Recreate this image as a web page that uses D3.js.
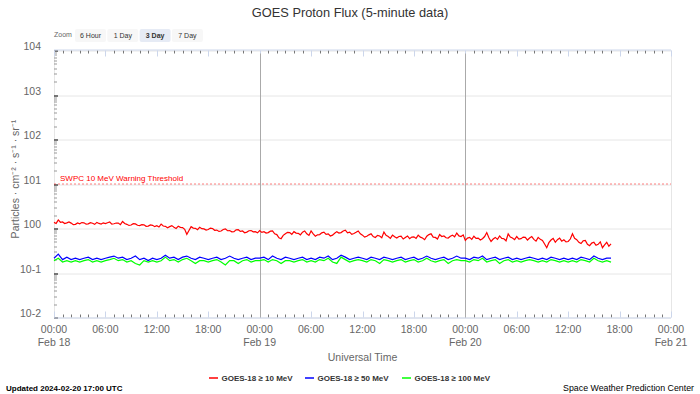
<!DOCTYPE html>
<html>
<head>
<meta charset="utf-8">
<script src="https://cdn.jsdelivr.net/npm/d3@7"></script>
<style>
  body { margin: 0; background: #fff; }
  svg { display: block; font-family: "Liberation Sans", Arial, sans-serif; }
</style>
</head>
<body>
<svg id="chart" width="700" height="394"></svg>
<script>
// readings start 2024-02-18 00:00 UTC
const startTime = Date.UTC(2024, 1, 18, 0, 0);

// >=10 MeV, read every 15 minutes
const flux10 = [
  1.37, 1.30, 1.56, 1.38, 1.40, 1.29, 1.34, 1.40, 1.32, 1.22, 1.24, 1.33, 1.28, 1.36, 1.34, 1.25, 1.27, 1.35, 1.31, 1.24, 1.37, 1.30, 1.26, 1.34,
  1.29, 1.35, 1.40, 1.25, 1.28, 1.33, 1.32, 1.22, 1.44, 1.30, 1.24, 1.17, 1.20, 1.28, 1.27, 1.18, 1.16, 1.22, 1.21, 1.12, 1.13, 1.20, 1.18, 1.10,
  1.16, 1.08, 1.26, 1.14, 1.12, 1.04, 1.10, 1.16, 1.07, 1.00, 1.13, 1.06, 1.05, 0.96, 0.74, 0.90, 1.10, 1.02, 1.01, 0.94, 1.07, 0.99, 0.98, 0.92,
  0.95, 1.02, 1.00, 0.91, 0.92, 0.86, 0.88, 0.95, 0.98, 0.89, 0.90, 0.84, 0.85, 0.93, 0.94, 0.86, 0.88, 0.80, 0.83, 0.89, 0.90, 0.84, 0.85, 0.80,
  0.90, 0.82, 0.85, 0.79, 0.81, 0.87, 0.88, 0.76, 0.73, 0.62, 0.59, 0.70, 0.76, 0.82, 0.81, 0.74, 0.85, 0.79, 0.78, 0.72, 0.83, 0.88, 0.76, 0.70,
  0.88, 0.76, 0.67, 0.72, 0.73, 0.80, 0.83, 0.74, 0.76, 0.68, 0.71, 0.78, 0.85, 0.79, 0.81, 0.88, 0.92, 0.80, 0.83, 0.74, 0.77, 0.82, 0.88, 0.76,
  0.71, 0.64, 0.67, 0.72, 0.76, 0.66, 0.63, 0.70, 0.68, 0.62, 0.83, 0.70, 0.66, 0.60, 0.71, 0.65, 0.61, 0.66, 0.67, 0.58, 0.63, 0.68, 0.59, 0.64,
  0.65, 0.60, 0.71, 0.64, 0.61, 0.56, 0.67, 0.73, 0.76, 0.64, 0.63, 0.58, 0.73, 0.66, 0.68, 0.62, 0.61, 0.67, 0.71, 0.65, 0.79, 0.68, 0.66, 0.72,
  0.54, 0.61, 0.63, 0.57, 0.67, 0.60, 0.61, 0.55, 0.59, 0.66, 0.81, 0.62, 0.51, 0.58, 0.63, 0.57, 0.68, 0.60, 0.59, 0.53, 0.76, 0.64, 0.61, 0.56,
  0.66, 0.58, 0.59, 0.64, 0.63, 0.55, 0.61, 0.66, 0.57, 0.52, 0.63, 0.57, 0.54, 0.45, 0.37, 0.48, 0.55, 0.60, 0.49, 0.56, 0.61, 0.52, 0.56, 0.50,
  0.51, 0.58, 0.76, 0.60, 0.56, 0.49, 0.46, 0.53, 0.54, 0.44, 0.41, 0.47, 0.49, 0.42, 0.44, 0.50, 0.37, 0.43, 0.49, 0.40, 0.45
];

// >=50 MeV, read every 30 minutes
const flux50 = [
  0.215, 0.265, 0.20, 0.227, 0.20, 0.215, 0.20, 0.215, 0.227, 0.20, 0.215, 0.20,
  0.215, 0.227, 0.24, 0.215, 0.227, 0.20, 0.215, 0.24, 0.20, 0.215, 0.19, 0.215,
  0.20, 0.215, 0.252, 0.215, 0.227, 0.20, 0.227, 0.24, 0.215, 0.20, 0.227, 0.215,
  0.20, 0.215, 0.227, 0.20, 0.215, 0.24, 0.215, 0.20, 0.215, 0.227, 0.20, 0.215,
  0.215, 0.227, 0.20, 0.24, 0.215, 0.20, 0.227, 0.215, 0.20, 0.215, 0.227, 0.20,
  0.215, 0.20, 0.227, 0.215, 0.24, 0.20, 0.215, 0.252, 0.227, 0.20, 0.215, 0.227,
  0.215, 0.20, 0.227, 0.215, 0.20, 0.227, 0.215, 0.20, 0.215, 0.227, 0.20, 0.215,
  0.227, 0.20, 0.215, 0.24, 0.215, 0.20, 0.215, 0.227, 0.20, 0.215, 0.24, 0.215,
  0.215, 0.20, 0.227, 0.215, 0.24, 0.20, 0.215, 0.227, 0.20, 0.215, 0.227, 0.20,
  0.215, 0.20, 0.215, 0.227, 0.215, 0.20, 0.215, 0.20, 0.227, 0.215, 0.20, 0.215,
  0.20, 0.215, 0.20, 0.227, 0.215, 0.20, 0.24, 0.215, 0.20, 0.215, 0.215
];

// >=100 MeV, read every 30 minutes
const flux100 = [
  0.189, 0.214, 0.176, 0.189, 0.176, 0.189, 0.176, 0.189, 0.20, 0.176, 0.189, 0.176,
  0.189, 0.20, 0.214, 0.189, 0.20, 0.176, 0.189, 0.164, 0.151, 0.189, 0.176, 0.189,
  0.176, 0.189, 0.227, 0.189, 0.20, 0.176, 0.20, 0.214, 0.189, 0.164, 0.189, 0.189,
  0.176, 0.189, 0.20, 0.176, 0.151, 0.189, 0.189, 0.164, 0.189, 0.20, 0.176, 0.189,
  0.189, 0.20, 0.176, 0.20, 0.189, 0.164, 0.189, 0.189, 0.176, 0.189, 0.20, 0.176,
  0.189, 0.176, 0.20, 0.189, 0.214, 0.176, 0.164, 0.227, 0.20, 0.176, 0.189, 0.20,
  0.189, 0.176, 0.20, 0.189, 0.164, 0.20, 0.189, 0.176, 0.189, 0.20, 0.176, 0.189,
  0.20, 0.176, 0.189, 0.214, 0.189, 0.176, 0.189, 0.20, 0.164, 0.189, 0.20, 0.189,
  0.189, 0.176, 0.20, 0.189, 0.214, 0.176, 0.189, 0.20, 0.164, 0.189, 0.20, 0.176,
  0.189, 0.176, 0.189, 0.20, 0.189, 0.176, 0.189, 0.176, 0.20, 0.189, 0.176, 0.189,
  0.176, 0.189, 0.176, 0.20, 0.189, 0.176, 0.214, 0.189, 0.176, 0.189, 0.176
];

const seriesNames = ['GOES-18 ≥ 10 MeV', 'GOES-18 ≥ 50 MeV', 'GOES-18 ≥ 100 MeV'];
const seriesColors = ['#ff0000', '#0000ff', '#00ff00'];
const seriesStepMinutes = [15, 30, 30];
const zoomButtons = ['6 Hour', '1 Day', '3 Day', '7 Day'];
const yTickExponents = [4, 3, 2, 1, 0, -1, -2];
const dayLabels = ['Feb 18', 'Feb 19', 'Feb 20', 'Feb 21'];
const thresholdValue = 10;

const svg = d3.select('#chart');
const margin = { top: 50.5, right: 29, bottom: 76.5, left: 54 };
const width = 700 - margin.left - margin.right;
const height = 394 - margin.top - margin.bottom;

const x = d3.scaleUtc()
  .domain([new Date(startTime), new Date(Date.UTC(2024, 1, 21))])
  .range([0, width]);

const y = d3.scaleLog()
  .domain([1e-2, 1e4])
  .range([height, 0]);

const g = svg.append('g')
  .attr('transform', `translate(${margin.left}, ${margin.top})`);

// title
svg.append('text')
  .attr('x', 350)
  .attr('y', 17)
  .attr('text-anchor', 'middle')
  .style('font-size', '12.8px')
  .style('fill', '#333')
  .text('GOES Proton Flux (5-minute data)');

// zoom buttons
svg.append('text')
  .attr('x', 54)
  .attr('y', 37)
  .style('font-size', '7px')
  .style('fill', '#666')
  .text('Zoom');

const btn = svg.selectAll('.btn')
  .data(zoomButtons)
  .enter().append('g')
  .attr('class', 'btn')
  .attr('transform', (d, i) => `translate(${75 + i * 32.3}, 29)`);

btn.append('rect')
  .attr('width', 31)
  .attr('height', 13)
  .attr('rx', 2)
  .attr('fill', d => d === '3 Day' ? '#e6ebf5' : '#f7f7f7');

btn.append('text')
  .attr('x', 15.5)
  .attr('y', 8.5)
  .attr('text-anchor', 'middle')
  .style('font-size', '7px')
  .style('font-weight', d => d === '3 Day' ? 'bold' : 'normal')
  .style('fill', '#333')
  .text(d => d);

// grid lines at each decade
g.selectAll('.grid')
  .data(yTickExponents)
  .enter().append('line')
  .attr('x1', 0)
  .attr('x2', width)
  .attr('y1', d => Math.round(y(Math.pow(10, d))) + 0.5)
  .attr('y2', d => Math.round(y(Math.pow(10, d))) + 0.5)
  .style('stroke', '#e6e6e6');

// right border and left axis line
g.append('line')
  .attr('x1', width + 0.5).attr('x2', width + 0.5)
  .attr('y1', 0).attr('y2', height)
  .style('stroke', '#e6e6e6');
g.append('line')
  .attr('x1', 0.5).attr('x2', 0.5)
  .attr('y1', 0).attr('y2', height)
  .style('stroke', '#e6e6e6');

// minor log ticks on left axis
const minorY = [];
yTickExponents.slice(0, -1).forEach(e => {
  for (let k = 2; k <= 9; k++) minorY.push(k * Math.pow(10, e - 1));
});
g.selectAll('.ytick-minor')
  .data(minorY)
  .enter().append('line')
  .attr('x1', 0).attr('x2', 3)
  .attr('y1', d => Math.round(y(d)) + 0.5)
  .attr('y2', d => Math.round(y(d)) + 0.5)
  .style('stroke', '#999');

g.selectAll('.ytick-major')
  .data(yTickExponents)
  .enter().append('line')
  .attr('x1', 0).attr('x2', 4)
  .attr('y1', d => Math.round(y(Math.pow(10, d))) + 0.5)
  .attr('y2', d => Math.round(y(Math.pow(10, d))) + 0.5)
  .style('stroke', '#222')
  .style('stroke-width', 1.2);

// y tick labels
g.selectAll('.ylabel')
  .data(yTickExponents)
  .enter().append('text')
  .attr('x', -13)
  .attr('y', d => y(Math.pow(10, d)) - 0.5)
  .attr('text-anchor', 'end')
  .style('font-size', '10.5px')
  .style('fill', '#666')
  .text(d => '10' + d);

// y axis title
svg.append('text')
  .attr('transform', 'translate(19, 179) rotate(-90)')
  .attr('text-anchor', 'middle')
  .style('font-size', '10.5px')
  .style('fill', '#666')
  .text('Particles · cm⁻² · s⁻¹ · sr⁻¹');

// x axes (top and bottom)
const hourTicks = d3.utcHour.every(1).range(x.domain()[0], d3.utcHour.offset(x.domain()[1], 1));
const sixHourTicks = hourTicks.filter(d => d.getUTCHours() % 6 === 0);
const minorHours = hourTicks.filter(d => d.getUTCHours() % 6 !== 0);

[0, height].forEach((yy, idx) => {
  const dir = idx === 0 ? 1 : -1;
  g.selectAll(null)
    .data(minorHours)
    .enter().append('line')
    .attr('x1', d => Math.round(x(d)) + 0.5)
    .attr('x2', d => Math.round(x(d)) + 0.5)
    .attr('y1', yy).attr('y2', yy + dir * 3)
    .style('stroke', '#777');
  g.selectAll(null)
    .data(sixHourTicks)
    .enter().append('line')
    .attr('x1', d => Math.round(x(d)) + 0.5)
    .attr('x2', d => Math.round(x(d)) + 0.5)
    .attr('y1', yy).attr('y2', yy + dir * 6)
    .style('stroke', '#ccd6eb');
  g.append('line')
    .attr('x1', 0).attr('x2', width)
    .attr('y1', yy - 0.5 * dir).attr('y2', yy - 0.5 * dir)
    .style('stroke', '#ccd6eb');
});

// day boundary lines
const dayLines = [new Date(Date.UTC(2024, 1, 19)), new Date(Date.UTC(2024, 1, 20))];
g.selectAll('.dayline')
  .data(dayLines)
  .enter().append('line')
  .attr('x1', d => Math.round(x(d)) + 0.5)
  .attr('x2', d => Math.round(x(d)) + 0.5)
  .attr('y1', 3).attr('y2', height)
  .style('stroke', '#aaa')
  .style('stroke-width', 1);

// x tick labels
g.selectAll('.xlabel')
  .data(sixHourTicks)
  .enter().append('text')
  .attr('x', d => x(d))
  .attr('y', height + 15)
  .attr('text-anchor', 'middle')
  .style('font-size', '10.5px')
  .style('fill', '#666')
  .text(d3.utcFormat('%H:%M'));

g.selectAll('.xday')
  .data(sixHourTicks.filter(d => d.getUTCHours() === 0))
  .enter().append('text')
  .attr('x', d => x(d))
  .attr('y', height + 28)
  .attr('text-anchor', 'middle')
  .style('font-size', '10.5px')
  .style('fill', '#666')
  .text((d, i) => dayLabels[i]);

svg.append('text')
  .attr('x', margin.left + width / 2)
  .attr('y', 361)
  .attr('text-anchor', 'middle')
  .style('font-size', '10.5px')
  .style('fill', '#666')
  .text('Universal Time');

// warning threshold
g.append('line')
  .attr('x1', 0).attr('x2', width)
  .attr('y1', y(thresholdValue)).attr('y2', y(thresholdValue))
  .style('stroke', '#ff0000')
  .style('stroke-opacity', 0.5)
  .style('stroke-dasharray', '2,2');

g.append('text')
  .attr('x', 6)
  .attr('y', y(thresholdValue) - 3)
  .style('font-size', '8px')
  .style('fill', '#ff0000')
  .text('SWPC 10 MeV Warning Threshold');

// series
[flux10, flux50, flux100].forEach((data, k) => {
  const line = d3.line()
    .x((d, i) => x(new Date(startTime + i * seriesStepMinutes[k] * 60000)))
    .y(d => y(d));
  g.append('path')
    .datum(data)
    .attr('fill', 'none')
    .attr('stroke', seriesColors[k])
    .attr('stroke-width', 1.2)
    .attr('d', line);
});

// legend
const legendX = [209, 305, 402];
const legend = svg.selectAll('.legend')
  .data(seriesNames)
  .enter().append('g')
  .attr('transform', (d, i) => `translate(${legendX[i]}, 378)`);

legend.append('line')
  .attr('x1', 0).attr('x2', 9)
  .attr('stroke', (d, i) => seriesColors[i])
  .attr('stroke-width', 1.5);

legend.append('text')
  .attr('x', 12.5)
  .attr('y', 3)
  .style('font-size', '8px')
  .style('font-weight', 'bold')
  .style('fill', '#333')
  .text(d => d);

// footer
svg.append('text')
  .attr('x', 6)
  .attr('y', 391)
  .style('font-size', '8px')
  .style('font-weight', 'bold')
  .style('fill', '#000')
  .text('Updated 2024-02-20 17:00 UTC');

svg.append('text')
  .attr('x', 694)
  .attr('y', 391)
  .attr('text-anchor', 'end')
  .style('font-size', '8.8px')
  .style('fill', '#000')
  .text('Space Weather Prediction Center');
</script>
</body>
</html>
